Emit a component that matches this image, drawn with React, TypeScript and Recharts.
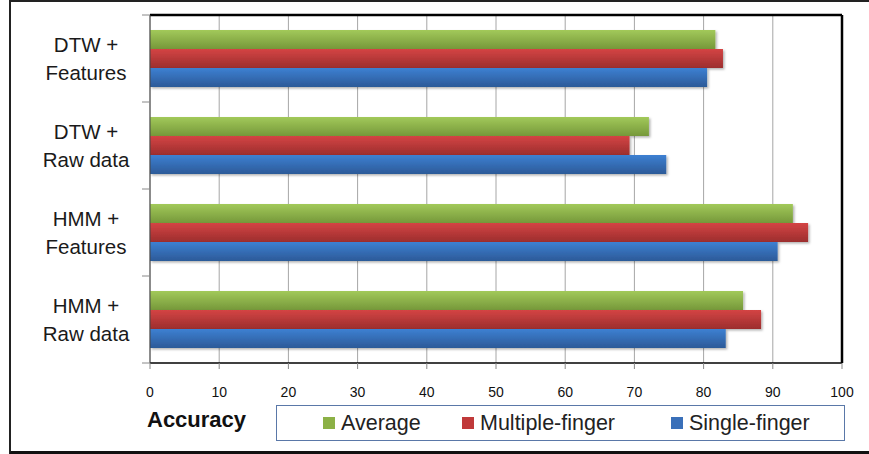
import {
  BarChart,
  Bar,
  XAxis,
  YAxis,
  CartesianGrid,
  Legend,
} from "recharts";

// recognition method + input type for each row (top to bottom)
const methods = ["DTW", "DTW", "HMM", "HMM"];
const inputs = ["Features", "Raw data", "Features", "Raw data"];

// accuracy in %
const average = [81.7, 72.1, 92.9, 85.7];
const multipleFinger = [82.8, 69.3, 95.1, 88.3];
const singleFinger = [80.5, 74.6, 90.7, 83.2];

const xTicks = [0, 10, 20, 30, 40, 50, 60, 70, 80, 90, 100];

const seriesNames = ["Average", "Multiple-finger", "Single-finger"];
const seriesColors = ["#8cb146", "#c0393a", "#3a70b9"];

const data = methods.map((m, i) => ({
  name: `${m} + ${inputs[i]}`,
  method: m,
  input: inputs[i],
  average: average[i],
  multiple: multipleFinger[i],
  single: singleFinger[i],
}));

const W = 869;
const H = 454;
const M_TOP = 15;
const M_RIGHT = 27;
const X_AXIS_H = 91;
const Y_AXIS_W = 150;
const PLOT_H = H - M_TOP - X_AXIS_H;
const BAND = PLOT_H / data.length;
const FONT = "'Liberation Sans', Arial, sans-serif";
const LEGEND_ITEM_W = [139, 209, 160];

const CategoryTick = (props: any) => {
  const { y, payload, index } = props;
  const row = data[index];
  const top = payload.coordinate - BAND / 2;
  return (
    <g>
      <line x1={Y_AXIS_W - 8} x2={Y_AXIS_W} y1={top} y2={top} stroke="#888" />
      {index === data.length - 1 && (
        <line
          x1={Y_AXIS_W - 8}
          x2={Y_AXIS_W}
          y1={top + BAND}
          y2={top + BAND}
          stroke="#888"
        />
      )}
      <text
        x={86}
        y={y}
        textAnchor="middle"
        fontSize={20.5}
        fontFamily={FONT}
        fill="#1a1a1a"
      >
        <tspan x={86} dy={-7}>{`${row.method} +`}</tspan>
        <tspan x={86} dy={28}>{row.input}</tspan>
      </text>
    </g>
  );
};

const LegendBox = () => (
  <div style={{ position: "relative", width: W, height: 50, fontFamily: FONT }}>
    <div
      style={{
        position: "absolute",
        left: 147,
        top: 7,
        fontSize: 22,
        fontWeight: "bold",
        color: "#111",
      }}
    >
      Accuracy
    </div>
    <div
      style={{
        position: "absolute",
        left: 276,
        top: 5,
        width: 569,
        height: 36,
        border: "1.5px solid #5a78a8",
        display: "flex",
        alignItems: "center",
        paddingLeft: 46,
        boxSizing: "border-box",
      }}
    >
      {seriesNames.map((s, i) => (
        <div
          key={s}
          style={{ display: "flex", alignItems: "center", width: LEGEND_ITEM_W[i] }}
        >
          <span
            style={{
              display: "inline-block",
              width: 12,
              height: 12,
              background: seriesColors[i],
              marginRight: 6,
            }}
          />
          <span style={{ fontSize: 21.5, color: "#222", whiteSpace: "nowrap" }}>{s}</span>
        </div>
      ))}
    </div>
  </div>
);

const App = () => {
  return (
    <div style={{ position: "absolute", left: 0, top: 0, width: W, height: H }}>
      <div
        style={{
          position: "absolute",
          left: 9,
          top: 0,
          width: W,
          height: 449,
          borderLeft: "2px solid #222",
          borderTop: "2px solid #222",
          borderBottom: "4px solid #111",
        }}
      />
      <BarChart
        width={W}
        height={H}
        data={data}
        layout="vertical"
        margin={{ top: M_TOP, right: M_RIGHT, left: 0, bottom: 0 }}
        barSize={19}
        barGap={0}
      >
        <defs>
          <linearGradient id="gAvg" x1="0" y1="0" x2="0" y2="1">
            <stop offset="0%" stopColor="#a2c95a" />
            <stop offset="100%" stopColor="#76983a" />
          </linearGradient>
          <linearGradient id="gMul" x1="0" y1="0" x2="0" y2="1">
            <stop offset="0%" stopColor="#d44444" />
            <stop offset="100%" stopColor="#9c2e2e" />
          </linearGradient>
          <linearGradient id="gSin" x1="0" y1="0" x2="0" y2="1">
            <stop offset="0%" stopColor="#3d80d2" />
            <stop offset="100%" stopColor="#2c5a98" />
          </linearGradient>
          <filter id="barShadow" x="-5%" y="-20%" width="110%" height="150%">
            <feDropShadow dx="1.5" dy="1.5" stdDeviation="1" floodOpacity="0.3" />
          </filter>
        </defs>
        <CartesianGrid horizontal={false} stroke="#a6a6a6" />
        {/* plot frame: top edge and right edge */}
        <CartesianGrid
          stroke="#000"
          strokeWidth={2.5}
          horizontalPoints={[M_TOP]}
          verticalPoints={[W - M_RIGHT]}
        />
        <XAxis
          type="number"
          domain={[0, 100]}
          ticks={xTicks}
          height={X_AXIS_H}
          axisLine={{ stroke: "#000", strokeWidth: 1.5 }}
          tickLine={{ stroke: "#888" }}
          tickSize={6}
          tickMargin={18}
          tick={{ fontSize: 14, fill: "#111", fontFamily: FONT }}
        />
        <YAxis
          type="category"
          dataKey="name"
          width={Y_AXIS_W}
          axisLine={{ stroke: "#444" }}
          tickLine={false}
          tick={<CategoryTick />}
          interval={0}
        />
        <Legend
          layout="horizontal"
          verticalAlign="middle"
          align="center"
          wrapperStyle={{ left: 0, top: 400, width: W }}
          content={() => <LegendBox />}
        />
        <Bar
          dataKey="average"
          name={seriesNames[0]}
          fill="url(#gAvg)"
          filter="url(#barShadow)"
          isAnimationActive={false}
        />
        <Bar
          dataKey="multiple"
          name={seriesNames[1]}
          fill="url(#gMul)"
          filter="url(#barShadow)"
          isAnimationActive={false}
        />
        <Bar
          dataKey="single"
          name={seriesNames[2]}
          fill="url(#gSin)"
          filter="url(#barShadow)"
          isAnimationActive={false}
        />
      </BarChart>
    </div>
  );
};

export default App;
